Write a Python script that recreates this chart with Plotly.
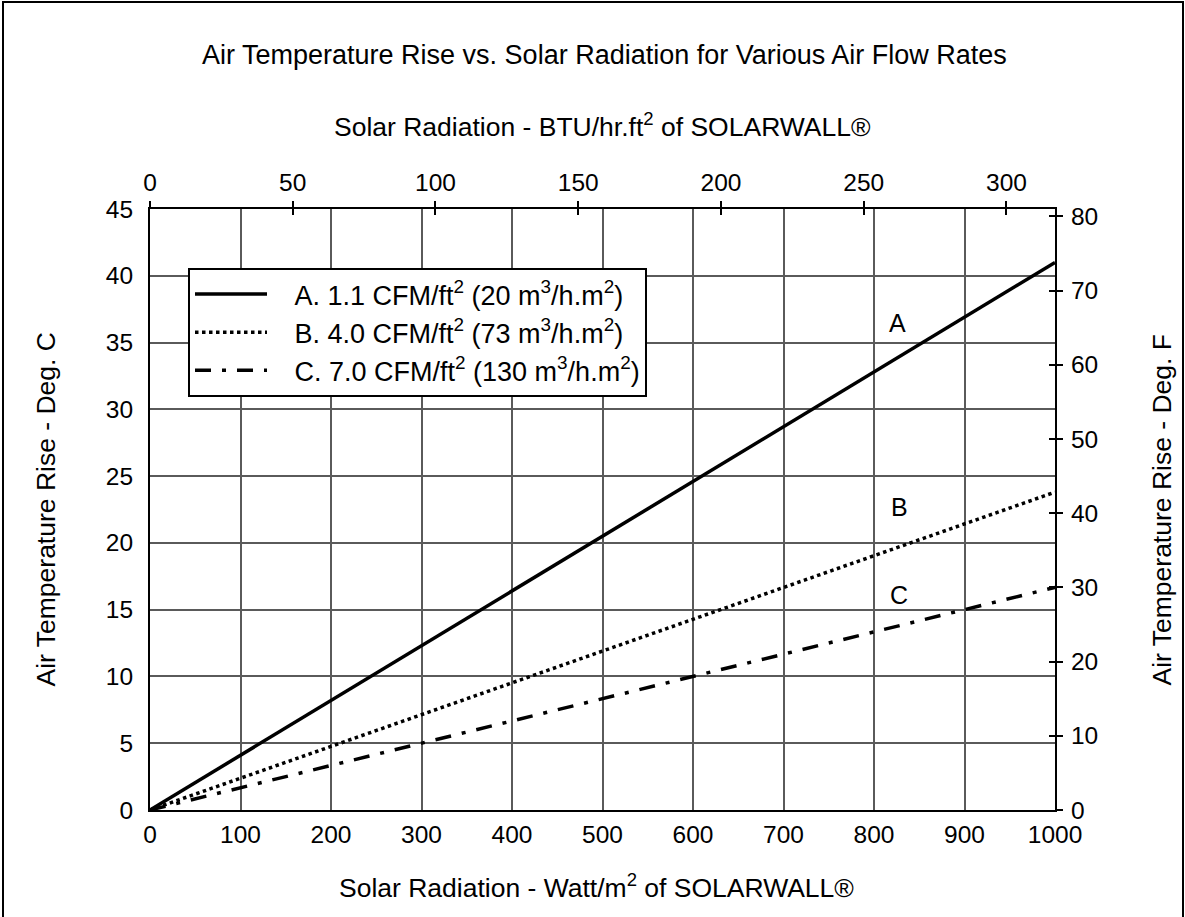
import plotly.graph_objects as go

# Data
solar_wm2 = [0, 1000]
rise_A = [0, 41.0]
rise_B = [0, 23.8]
rise_C = [0, 16.67]
names = [
    "&nbsp;&nbsp;&nbsp;A. 1.1 CFM/ft<sup>2</sup> (20 m<sup>3</sup>/h.m<sup>2</sup>)",
    "&nbsp;&nbsp;&nbsp;B. 4.0 CFM/ft<sup>2</sup> (73 m<sup>3</sup>/h.m<sup>2</sup>)",
    "&nbsp;&nbsp;&nbsp;C. 7.0 CFM/ft<sup>2</sup> (130 m<sup>3</sup>/h.m<sup>2</sup>)",
]
curve_labels = ["A", "B", "C"]
label_x = [826, 828, 828]
label_y = [36.5, 22.7, 16.1]

x_ticks = list(range(0, 1001, 100))
yC_ticks = list(range(0, 46, 5))
top_ticks = list(range(0, 301, 50))
yF_ticks = list(range(0, 81, 10))

FONT = "Liberation Sans, Arial, sans-serif"
W, H = 1185, 917
L, R, T, B = 150, 130, 209, 107
pw, ph = W - L - R, H - T - B

def px(xp):
    return (xp - L) / pw

def py(yp):
    return (H - B - yp) / ph

fig = go.Figure()
dashes = ["solid", "3.5px,3.5px", "16px,11px,4px,11px"]
for yv, nm, d in zip([rise_A, rise_B, rise_C], names, dashes):
    fig.add_trace(go.Scatter(x=solar_wm2, y=yv, mode="lines", name=nm,
                             line=dict(color="black", width=3.5, dash=d)))

# invisible traces to activate secondary axes
fig.add_trace(go.Scatter(x=[0], y=[0], xaxis="x2", yaxis="y2", showlegend=False,
                         mode="markers", marker=dict(opacity=0), hoverinfo="skip"))
fig.add_trace(go.Scatter(x=[0], y=[0], xaxis="x3", yaxis="y3", showlegend=False,
                         mode="markers", marker=dict(opacity=0), hoverinfo="skip"))

for lx, ly, t in zip(label_x, label_y, curve_labels):
    fig.add_annotation(x=lx, y=ly, text=t, showarrow=False,
                       font=dict(size=25, color="black", family=FONT))

annots = [
    (604, 55, "Air Temperature Rise vs. Solar Radiation for Various Air Flow Rates", 0, 27),
    (602, 125, "Solar Radiation - BTU/hr.ft<sup>2</sup> of SOLARWALL®", 0, 26.5),
    (596, 886, "Solar Radiation - Watt/m<sup>2</sup> of SOLARWALL®", 0, 26.5),
    (45, T + ph / 2, "Air Temperature Rise - Deg. C", -90, 26.5),
    (1161, T + ph / 2, "Air Temperature Rise - Deg. F", -90, 26.5),
]
for xp, yp, t, ang, fs in annots:
    fig.add_annotation(x=px(xp), y=py(yp), xref="paper", yref="paper", text=t,
                       showarrow=False, textangle=ang, xanchor="center", yanchor="middle",
                       font=dict(size=fs, color="black", family=FONT))

# outer border
fig.add_shape(type="rect", xref="paper", yref="paper",
              x0=px(3), x1=px(1183), y0=py(930), y1=py(2),
              line=dict(color="black", width=2), fillcolor="rgba(0,0,0,0)", layer="below")

grid = dict(showgrid=True, gridcolor="#5a5a5a", gridwidth=1.5, zeroline=False)
fig.update_layout(
    width=W, height=H,
    margin=dict(l=L, r=R, t=T, b=B),
    paper_bgcolor="white", plot_bgcolor="white",
    font=dict(family=FONT, size=24.5, color="black"),
    showlegend=True,
    legend=dict(x=px(188), y=py(268), xanchor="left", yanchor="top",
                bordercolor="black", borderwidth=2, bgcolor="white",
                font=dict(size=27, family=FONT, color="black"),
                itemwidth=72, tracegroupgap=0),
    xaxis=dict(range=[0, 1000], tickvals=x_ticks, ticks="", showline=True, linecolor="black",
               linewidth=2, mirror=True, ticklabelstandoff=2, **grid),
    yaxis=dict(range=[0, 45], tickvals=yC_ticks, ticks="", showline=True, linecolor="black",
               linewidth=2, mirror=True, ticklabelstandoff=10, **grid),
    xaxis2=dict(range=[0, 317], tickvals=top_ticks, overlaying="x", side="top", anchor="y",
                ticks="outside", ticklen=7, tickwidth=2, tickcolor="black", showgrid=False,
                zeroline=False, ticklabelstandoff=0),
    yaxis2=dict(range=[0, 81], tickvals=yF_ticks, overlaying="y", side="right", anchor="x",
                ticks="outside", ticklen=7, tickwidth=2, tickcolor="black", showgrid=False,
                zeroline=False, ticklabelstandoff=3),
    xaxis3=dict(range=[0, 317], tickvals=top_ticks, overlaying="x", side="top", anchor="y",
                ticks="inside", ticklen=6, tickwidth=2, tickcolor="black", showgrid=False,
                zeroline=False, showticklabels=False),
    yaxis3=dict(range=[0, 81], tickvals=yF_ticks, overlaying="y", side="right", anchor="x",
                ticks="inside", ticklen=6, tickwidth=2, tickcolor="black", showgrid=False,
                zeroline=False, showticklabels=False),
)

fig.write_html("out.html", config={"displayModeBar": False},
               post_script="document.body.style.margin='0';")
